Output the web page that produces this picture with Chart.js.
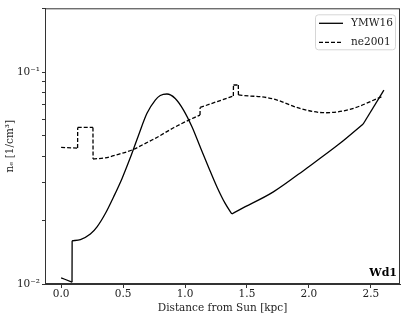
<!DOCTYPE html>
<html>
<head>
<meta charset="utf-8">
<script src="https://cdn.jsdelivr.net/npm/chart.js@4"></script>
<style>
  html, body { margin: 0; padding: 0; background: #fff; }
  canvas { display: block; }
</style>
</head>
<body>
<canvas id="graph" width="407" height="318"></canvas>
<script>
// YMW16 model (solid)
const ymwX = [0.0, 0.088, 0.089, 0.156, 0.236, 0.29, 0.357, 0.424, 0.492, 0.558, 0.625, 0.693, 0.76, 0.80, 0.854, 0.921, 0.988, 1.056, 1.122, 1.189, 1.257, 1.324, 1.378, 1.446, 1.713, 1.982, 2.251, 2.438, 2.605];
const ymwY = [0.0107, 0.0102, 0.0160, 0.0162, 0.0172, 0.0186, 0.0215, 0.0258, 0.0315, 0.0394, 0.0504, 0.0639, 0.0738, 0.0775, 0.0788, 0.0751, 0.0662, 0.0552, 0.0444, 0.0357, 0.0288, 0.0240, 0.0214, 0.0225, 0.0272, 0.0352, 0.0461, 0.0569, 0.0822];
// indices où la courbe a un angle
const ymwBreaks = [1, 2, 22, 27];

// ne2001 model (dashed)
const neX = [0.0, 0.133, 0.134, 0.257, 0.258, 0.357, 0.492, 0.572, 0.72, 0.76, 0.908, 1.042, 1.121, 1.122, 1.257, 1.390, 1.391, 1.430, 1.431, 1.525, 1.606, 1.727, 1.928, 2.13, 2.331, 2.6];
const neY = [0.0441, 0.0438, 0.0548, 0.0548, 0.0389, 0.0394, 0.0414, 0.0429, 0.0474, 0.0487, 0.0546, 0.0598, 0.0627, 0.0681, 0.0725, 0.0771, 0.0869, 0.0869, 0.0780, 0.0771, 0.0766, 0.0743, 0.0674, 0.0643, 0.0667, 0.0771];
const neBreaks = [1, 2, 3, 4, 12, 13, 15, 16, 17, 18];

const seriesNames = ["YMW16", "ne2001"];
const xTicks = [0, 0.5, 1.0, 1.5, 2.0, 2.5];
const yTicks = [0.01, 0.02, 0.03, 0.04, 0.05, 0.06, 0.07, 0.08, 0.09, 0.1, 0.2];
const yLabels = { "0.01": "10\u207B\u00B2", "0.1": "10\u207B\u00B9" };
const clusterName = "Wd1";

const serif = "'DejaVu Serif', 'Liberation Serif', serif";

// découpe une série en morceaux lisses entre les angles
function pieces(xs, ys, breaks, label, dash) {
  const cuts = [0, ...breaks, xs.length - 1];
  const out = [];
  for (let k = 0; k < cuts.length - 1; k++) {
    const data = [];
    for (let i = cuts[k]; i <= cuts[k + 1]; i++) data.push({ x: xs[i], y: ys[i] });
    out.push({
      label: label,
      data: data,
      borderColor: "#000",
      borderWidth: 1.3,
      borderDash: dash,
      pointRadius: 0,
      cubicInterpolationMode: "monotone"
    });
  }
  return out;
}

// cadre, légende et étiquette
const extras = {
  id: "extras",
  afterDraw(chart) {
    const c = chart.ctx, a = chart.chartArea;
    c.save();
    c.strokeStyle = "#333";
    c.lineWidth = 1;
    c.strokeRect(a.left + 0.5, a.top + 0.5, a.right - a.left - 1, a.bottom - a.top - 1);

    // légende
    const lx = a.right - 85, ly = a.top + 6, lw = 80, lh = 35;
    c.beginPath();
    c.roundRect(lx + 0.5, ly + 0.5, lw, lh, 3);
    c.fillStyle = "rgba(255,255,255,0.8)";
    c.fill();
    c.strokeStyle = "#d6d6d6";
    c.stroke();
    c.font = "10.5px " + serif;
    c.fillStyle = "#222";
    c.textBaseline = "middle";
    c.strokeStyle = "#000";
    c.lineWidth = 1.3;
    [0, 1].forEach(i => {
      const y = ly + 9 + i * 19;
      c.setLineDash(i ? [4, 2] : []);
      c.beginPath();
      c.moveTo(lx + 4, y);
      c.lineTo(lx + 28, y);
      c.stroke();
      c.fillText(seriesNames[i], lx + 36, y);
    });
    c.setLineDash([]);

    c.font = "bold 11px " + serif;
    c.textAlign = "right";
    c.textBaseline = "alphabetic";
    c.fillStyle = "#000";
    c.fillText(clusterName, a.right - 3, a.bottom - 8);
    c.restore();
  }
};

new Chart(document.getElementById("graph"), {
  type: "line",
  data: {
    datasets: [
      ...pieces(ymwX, ymwY, ymwBreaks, seriesNames[0], []),
      ...pieces(neX, neY, neBreaks, seriesNames[1], [4, 2])
    ]
  },
  options: {
    responsive: false,
    animation: false,
    layout: { padding: { top: 8, right: 7, left: 0, bottom: 0 } },
    plugins: {
      legend: { display: false },
      tooltip: { enabled: false }
    },
    scales: {
      x: {
        type: "linear",
        min: -0.13,
        max: 2.735,
        afterBuildTicks: s => { s.ticks = xTicks.map(v => ({ value: v })); },
        afterFit: s => { s.height = 34; },
        ticks: {
          font: { family: serif, size: 10.5 },
          color: "#222",
          padding: 0,
          maxRotation: 0,
          autoSkip: false,
          callback: v => v.toFixed(1)
        },
        grid: { drawOnChartArea: false, tickLength: 4, color: "#333" },
        border: { color: "#333" },
        title: {
          display: true,
          text: "Distance from Sun [kpc]",
          font: { family: serif, size: 10.5 },
          color: "#222",
          padding: { top: 0, bottom: 3 }
        }
      },
      y: {
        type: "logarithmic",
        min: 0.01,
        max: 0.2,
        afterBuildTicks: s => { s.ticks = yTicks.map(v => ({ value: v })); },
        afterFit: s => { s.width = 45; },
        ticks: {
          font: { family: serif, size: 10.5 },
          color: "#222",
          padding: 2,
          autoSkip: false,
          callback: v => yLabels[String(v)] || ""
        },
        grid: { drawOnChartArea: false, tickLength: 3, color: "#333" },
        border: { color: "#333" },
        title: {
          display: true,
          text: "n\u2091 [1/cm\u00B3]",
          font: { family: serif, size: 10.5 },
          color: "#222",
          padding: { top: 4, bottom: 0 }
        }
      }
    }
  },
  plugins: [extras]
});
</script>
</body>
</html>
